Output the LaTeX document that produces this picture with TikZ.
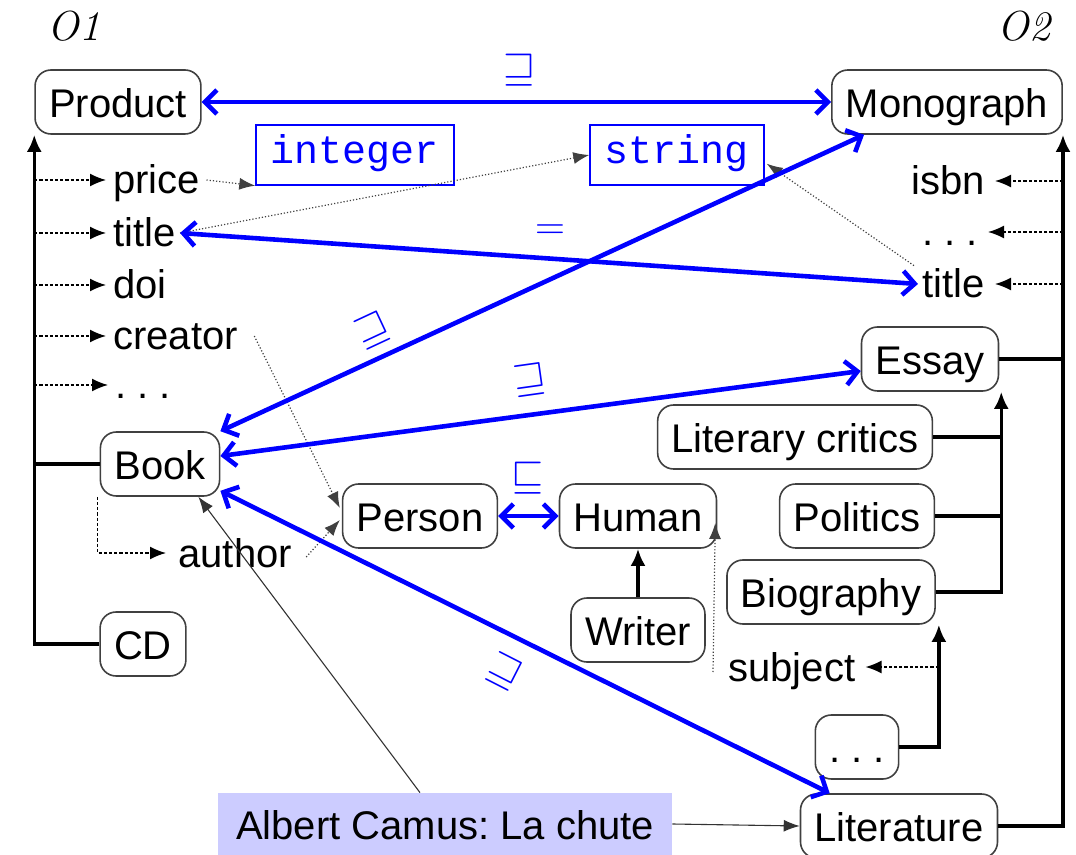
\documentclass[tikz,border=0pt]{standalone}
\usepackage{fontspec}
\setsansfont{Liberation Sans}
\setmonofont{Liberation Mono}
\usetikzlibrary{arrows.meta,calc}

\newcommand{\spaceddots}{.\kern5.5pt.\kern5.5pt.}

\tikzset{
  concept/.style={draw=black!75, line width=0.8pt, rounded corners=8pt,
    minimum height=32pt, inner xsep=7pt, text height=15.5pt, text depth=0pt},
  attrlabel/.style={inner sep=2pt, text height=15pt, text depth=1pt},
  dtype/.style={draw=blue, line width=0.7pt, text=blue, font=\fontsize{20}{24}\ttfamily,
    minimum height=30pt, inner xsep=7.5pt, text height=12pt, text depth=3pt},
  matchline/.style={blue, line width=2.3pt,
    {Straight Barb[length=6pt,width=12pt]}-{Straight Barb[length=6pt,width=12pt]}},
  isaline/.style={line width=1.7pt, -{Latex[length=8.5pt,width=7.5pt]}},
  treeline/.style={line width=1.7pt},
  propline/.style={line width=0.75pt, dash pattern=on 1.6pt off 1pt, -{Latex[length=8pt,width=6.5pt]}},
  rangeline/.style={line width=0.6pt, black!75, densely dotted, -{Latex[length=8pt,width=6pt]}},
  instline/.style={line width=0.55pt, black!80, -{Latex[length=8pt,width=6pt]}},
  rellabel/.style={blue, font=\fontsize{21}{21}\selectfont, inner sep=0pt},
}

\begin{document}
\begin{tikzpicture}[x=0.5pt, y=-0.5pt, font=\fontsize{20}{24}\selectfont\sffamily\frenchspacing]
\useasboundingbox (0,0) rectangle (1076,855);

% ontology names
\node[font=\fontsize{21}{24}\selectfont\rmfamily\itshape] (o1) at (74,26) {O1};
\node[font=\fontsize{21}{24}\selectfont\rmfamily\itshape] (o2) at (1024,26) {O2};

% ---- O1 concepts
\node[concept] (product) at (118,102) {Product};
\node[concept] (book) at (160,464) {Book};
\node[concept] (cd) at (143,644) {CD};

% O1 attributes
\node[attrlabel, anchor=west] (price) at (109,180) {price};
\node[attrlabel, anchor=west] (title1) at (109,233) {title};
\node[attrlabel, anchor=west] (doi) at (109,285) {doi};
\node[attrlabel, anchor=west] (creator) at (109,336) {creator};
\node[attrlabel, anchor=west] (more1) at (111,385) {\spaceddots};
\node[attrlabel, anchor=west] (author) at (174,553) {author};

% data types
\node[dtype] (integer) at (355,155) {integer};
\node[dtype] (string) at (677,155) {string};

% ---- O2 concepts
\node[concept] (mono) at (947,102) {Monograph};
\node[concept] (essay) at (930,359) {Essay};
\node[concept] (litcrit) at (795,437) {Literary critics};
\node[concept] (politics) at (857,516) {Politics};
\node[concept] (bio) at (831,592) {Biography};
\node[concept] (etc) at (857,747) {\spaceddots};
\node[concept] (lit) at (899,826) {Literature};
\node[concept] (person) at (420,516) {Person};
\node[concept] (human) at (638,516) {Human};
\node[concept] (writer) at (638,630) {Writer};

% O2 attributes
\node[attrlabel, anchor=east] (isbn) at (989,181) {isbn};
\node[attrlabel, anchor=east] (more2) at (982,232) {\spaceddots};
\node[attrlabel, anchor=east] (title2) at (989,284) {title};
\node[attrlabel, anchor=west] (subject) at (724,667) {subject};

% instance
\node[fill=blue!20, minimum height=31pt, inner xsep=9pt, text height=15.5pt, text depth=0pt]
  (camus) at (445,824) {Albert Camus: La chute};

% ---- O1 hierarchy
\draw[treeline] (book.west) -- (book.west -| product.south west);
\draw[isaline] (cd.west) -| (product.south west);
\foreach \a in {price,title1,doi,creator,more1}
  \draw[propline] (product.south west |- \a.west) -- ($(\a.west)+(-3,0)$);
\draw[propline] ($(book.south west)+(-2,0)$) |- ($(author.west)+(-8,0)$);

% ---- O2 hierarchy
\coordinate (ev) at ($(essay.south east)+(2,0)$);
\draw[isaline] (lit.east) -| (mono.south east);
\draw[treeline] (essay.east) -- (essay.east -| mono.south east);
\foreach \a in {isbn,more2,title2}
  \draw[propline] (mono.south east |- \a.east) -- ($(\a.east)+(6,0)$);
\draw[isaline] (bio.east) -| (ev);
\draw[treeline] (litcrit.east) -- (litcrit.east -| ev);
\draw[treeline] (politics.east) -- (politics.east -| ev);
\coordinate (bv) at ($(bio.south east)+(3,0)$);
\draw[isaline] (etc.east) -| (bv);
\draw[propline] (bv |- subject.east) -- ($(subject.east)+(6,0)$);
\draw[isaline] (writer.north) -- (human.south);
\draw[rangeline] ($(subject.west)+(-11,5)$) -- ($(human.east)+(-2,7)$);

% ---- ranges
\draw[rangeline] ($(price.east)+(2,0)$) -- (integer.south west);
\draw[rangeline] (title1.east) -- (string.west);
\draw[rangeline] ($(title2.north west)+(-4,2)$) -- ($(string.south east)+(2,-22)$);
\draw[rangeline] ($(creator.east)+(12,0)$) -- ($(person.west)+(-2,-8)$);
\draw[rangeline] ($(author.east)+(10,4)$) -- ($(person.west)+(-2,4)$);

% ---- alignments
\draw[matchline] (product.east) -- (mono.west);
\draw[matchline] (title1.east) -- (title2.west);
\draw[matchline] (book.north east) -- ($(mono.south west)+(33,0)$);
\draw[matchline] ($(book.east)+(0,-8)$) -- ($(essay.west)+(0,12)$);
\draw[matchline] ($(book.south east)+(0,-6)$) -- ($(lit.north west)+(30,0)$);
\draw[matchline] (person.east) -- (human.west);

\node[rellabel] (r1) at (520,70) {$\sqsupseteq$};
\node[rellabel] (r2) at (550,232) {$=$};
\node[rellabel, rotate=25] (r3) at (373,330) {$\sqsupseteq$};
\node[rellabel, rotate=8] (r4) at (530,380) {$\sqsupseteq$};
\node[rellabel] (r5) at (528,478) {$\sqsubseteq$};
\node[rellabel, rotate=-27] (r6) at (505,672) {$\sqsupseteq$};

% ---- instance links
\draw[instline] ($(camus.north)+(-25,0)$) -- ($(book.south east)+(-22,0)$);
\draw[instline] (camus.east) -- (lit.west);
\end{tikzpicture}
\end{document}
